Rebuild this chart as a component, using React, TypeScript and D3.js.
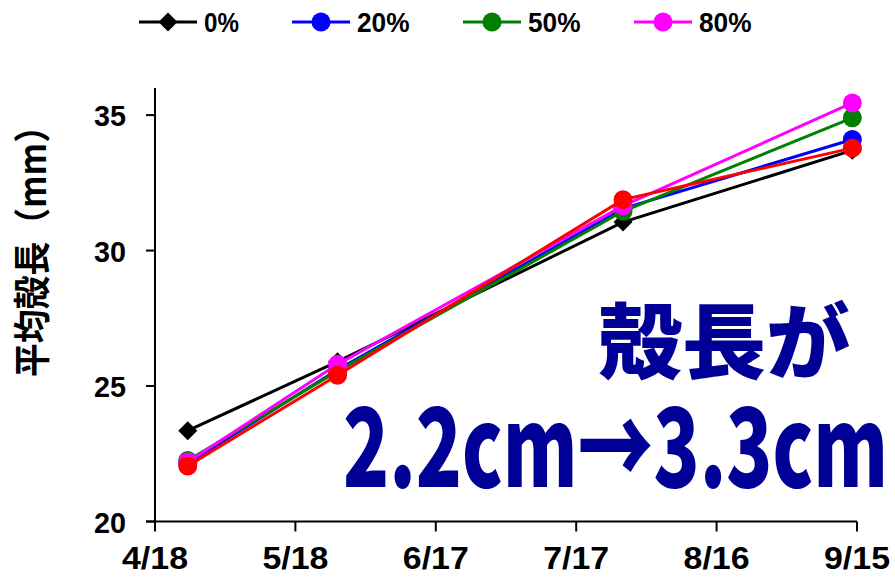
import React from "react";
import * as d3 from "d3";

const dates = ["2019-04-25", "2019-05-27", "2019-07-27", "2019-09-14"];
const s0 = [23.35, 25.9, 31.05, 33.7];
const s20 = [22.15, 25.6, 31.55, 34.1];
const s50 = [22.25, 25.55, 31.45, 34.9];
const s80 = [22.2, 25.8, 31.65, 35.45];
const sRed = [22.05, 25.4, 31.88, 33.78];
const legendLabels = ["0%", "20%", "50%", "80%"];
const xTickLabels = ["4/18", "5/18", "6/17", "7/17", "8/16", "9/15"];
const yTicks = [20, 25, 30, 35];
const yTitle = "平均殻長（mm）";
const bigLine1 = "殻長が";
const bigLine2 = "2.2cm→3.3cm";

const W = 895;
const H = 577;
const parse = d3.timeParse("%Y-%m-%d");
const start = parse("2019-04-18")!;
const end = parse("2019-09-15")!;

const series = [
  { name: "0%", values: s0, color: "#000000", shape: "diamond" },
  { name: "20%", values: s20, color: "#0000FF", shape: "circle" },
  { name: "50%", values: s50, color: "#008000", shape: "circle" },
  { name: "80%", values: s80, color: "#FF00FF", shape: "circle" },
  { name: "", values: sRed, color: "#FF0000", shape: "circle" },
];

const TICK_FONT = "'Liberation Sans', Arial, sans-serif";
const JP_FONT = "'Noto Sans CJK JP', 'Noto Sans', sans-serif";

function Marker({ shape, x, y, color }: { shape: string; x: number; y: number; color: string }) {
  if (shape === "diamond") {
    const r = 9.5;
    return <path d={`M${x},${y - r}L${x + r},${y}L${x},${y + r}L${x - r},${y}Z`} fill={color} />;
  }
  return <circle cx={x} cy={y} r={9.5} fill={color} />;
}

export default function App() {
  const x = d3.scaleTime().domain([start, end]).range([155, 857]);
  const y = d3.scaleLinear().domain([20, 36]).range([521.5, 88]);
  const dateObjs = dates.map((d) => parse(d)!);
  const xTickDates = xTickLabels.map((_, i) => d3.timeDay.offset(start, i * 30));
  const line = d3
    .line<number>()
    .x((_, i) => x(dateObjs[i]))
    .y((d) => y(d));

  const lineW = 58;
  const charW = 17.5;
  let cursor = 139;
  const legendItems = legendLabels.map((lab, i) => {
    const item = { lab, x0: cursor, s: series[i] };
    cursor += lineW + 7 + 18 * lab.length + 52;
    return item;
  });
  const ly = 22;

  return (
    <svg width={W} height={H} style={{ position: "absolute", left: 0, top: 0, background: "#fff" }}>
      {legendItems.map((it) => (
        <g key={it.lab}>
          <line x1={it.x0} x2={it.x0 + lineW} y1={ly} y2={ly} stroke={it.s.color} strokeWidth={3} />
          <Marker shape={it.s.shape} x={it.x0 + lineW / 2} y={ly} color={it.s.color} />
          <text
            x={it.x0 + lineW + 7}
            y={ly + 10}
            fontFamily={TICK_FONT}
            fontWeight="bold"
            fontSize={27}
            textLength={charW * it.lab.length}
            lengthAdjust="spacingAndGlyphs"
          >
            {it.lab}
          </text>
        </g>
      ))}

      <line x1={155} x2={155} y1={y(36)} y2={y(20)} stroke="#000" strokeWidth={2} />
      {yTicks.map((t) => (
        <g key={t}>
          <line x1={146} x2={155} y1={y(t)} y2={y(t)} stroke="#000" strokeWidth={2} />
          <text
            x={126}
            y={y(t) + 11}
            textAnchor="end"
            fontFamily={TICK_FONT}
            fontWeight="bold"
            fontSize={30}
            textLength={32}
            lengthAdjust="spacingAndGlyphs"
          >
            {t}
          </text>
        </g>
      ))}

      <line x1={146} x2={x(end)} y1={y(20)} y2={y(20)} stroke="#000" strokeWidth={2} />
      {xTickDates.map((d, i) => (
        <g key={i}>
          <line x1={x(d)} x2={x(d)} y1={y(20)} y2={y(20) + 10} stroke="#000" strokeWidth={2} />
          <text
            x={x(d)}
            y={569}
            textAnchor="middle"
            fontFamily={TICK_FONT}
            fontWeight="bold"
            fontSize={31}
            textLength={66}
            lengthAdjust="spacingAndGlyphs"
          >
            {xTickLabels[i]}
          </text>
        </g>
      ))}

      <text
        transform="translate(46,243) rotate(-90)"
        textAnchor="middle"
        fontFamily={JP_FONT}
        fontWeight="bold"
        fontSize={37}
        textLength={268}
        lengthAdjust="spacingAndGlyphs"
      >
        {yTitle}
      </text>

      {series.map((s, si) => (
        <g key={si}>
          <path d={line(s.values) || ""} fill="none" stroke={s.color} strokeWidth={3} />
          {s.values.map((v, i) => (
            <Marker key={i} shape={s.shape} x={x(dateObjs[i])} y={y(v)} color={s.color} />
          ))}
        </g>
      ))}

      <text
        x={598}
        y={372}
        fontFamily={JP_FONT}
        fontWeight={900}
        fontSize={82}
        fill="#000096"
        textLength={252}
        lengthAdjust="spacingAndGlyphs"
      >
        {bigLine1}
      </text>
      <text
        x={343}
        y={487}
        fontFamily={JP_FONT}
        fontWeight={900}
        fontSize={110}
        fill="#000096"
        textLength={545}
        lengthAdjust="spacingAndGlyphs"
      >
        {bigLine2}
      </text>
    </svg>
  );
}
